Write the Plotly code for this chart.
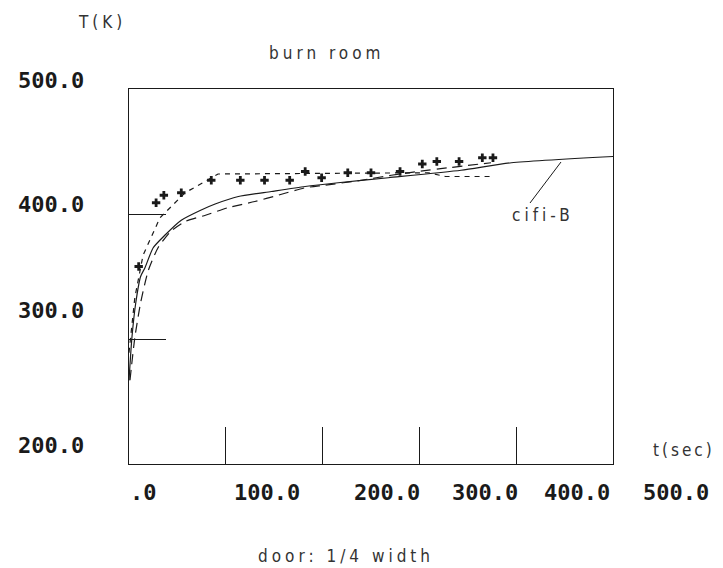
import plotly.graph_objects as go

# ---------------- data ----------------
solid_t = [0, 3, 7, 12, 16.5, 25, 37, 54, 74, 89, 113, 147, 182, 216, 268, 343, 395, 500]
solid_T = [267, 301, 329, 350, 357, 373, 383, 395, 403, 408, 414, 418, 422, 425, 429, 435, 441, 446]

dash_t = [1, 6, 12, 20, 30, 43, 58, 79, 102, 130, 154, 182, 202, 240, 271, 299, 330, 374]
dash_T = [267, 301, 329, 355, 373, 386, 394, 399, 405, 410, 415, 421, 423, 427, 431, 434, 437, 441]

dot_t = [0, 6, 14.5, 25, 32, 58, 79, 92, 309, 327, 373]
dot_T = [289, 333, 367, 385, 397, 417, 426, 432, 433, 430, 430]

meas_t = [10, 28, 36, 54, 85, 115, 140, 166, 182, 199, 226, 250, 280, 303, 318, 341, 365, 376]
meas_T = [358, 409, 415, 417, 427, 427, 427, 427, 434, 429, 433, 433, 434, 440, 442, 442, 445, 445]

x_tick_vals = [100, 200, 300, 400]
y_tick_vals = [300, 400]
x_tick_labels = [".0", "100.0", "200.0", "300.0", "400.0", "500.0"]
y_tick_labels = ["500.0", "400.0", "300.0", "200.0"]

# ---------------- layout geometry (pixels) ----------------
W, H = 723, 568
L, R, T, B = 121, 605, 81, 456

x_lab_px = [135, 259, 379, 477, 569, 668]
x_lab_py = 484
y_lab_px = 43
y_lab_py = [72, 196, 302, 437]


def px2paper(px, py):
    return (px - L) / (R - L), (B - py) / (B - T)


INK = "#1a1a1a"
TICKFONT = dict(family="DejaVu Sans Mono", size=22, color=INK)
THIN = dict(family="DejaVu Sans Condensed, Liberation Sans Narrow, DejaVu Sans", size=17, color="#333333")


def spaced(s, sp=4):
    return '<span style="letter-spacing:%dpx">%s</span>' % (sp, s)


fig = go.Figure()
fig.add_trace(go.Scatter(x=solid_t, y=solid_T, mode="lines", line=dict(color=INK, width=1.2, shape="spline", smoothing=0.6), name="cifi-B"))
fig.add_trace(go.Scatter(x=dash_t, y=dash_T, mode="lines", line=dict(color=INK, width=1.2, dash="10px,6px", shape="spline", smoothing=0.6)))
fig.add_trace(go.Scatter(x=dot_t, y=dot_T, mode="lines", line=dict(color=INK, width=1.2, dash="5px,5px")))
fig.add_trace(go.Scatter(x=meas_t, y=meas_T, mode="markers", marker=dict(symbol="cross", size=7, color=INK)))

annotations = []
for lab, px in zip(x_tick_labels, x_lab_px):
    ax, ay = px2paper(px, x_lab_py)
    annotations.append(dict(x=ax, y=ay, xref="paper", yref="paper", text="<b>%s</b>" % lab, showarrow=False,
                            font=TICKFONT, xanchor="center", yanchor="middle"))
for lab, py in zip(y_tick_labels, y_lab_py):
    ax, ay = px2paper(y_lab_px, py)
    annotations.append(dict(x=ax, y=ay, xref="paper", yref="paper", text="<b>%s</b>" % lab, showarrow=False,
                            font=TICKFONT, xanchor="center", yanchor="middle"))

texts = [("T(K)", 94, 14, 4), ("burn room", 318, 45, 4), ("t(sec)", 676, 442, 3),
         ("cifi-B", 535, 207, 4), ("door: 1/4 width", 338, 548, 4)]
for s, px, py, sp in texts:
    ax, ay = px2paper(px, py)
    annotations.append(dict(x=ax, y=ay, xref="paper", yref="paper", text=spaced(s, sp), showarrow=False,
                            font=THIN, xanchor="center", yanchor="middle"))

# leader line for the cifi-B label
lx0, ly0 = px2paper(522, 195)
lx1, ly1 = px2paper(553, 154)

fig.update_layout(
    width=W, height=H,
    margin=dict(l=L, r=W - R, t=T, b=H - B),
    paper_bgcolor="white", plot_bgcolor="white",
    showlegend=False,
    annotations=annotations,
    shapes=[dict(type="line", xref="paper", yref="paper", x0=lx0, y0=ly0, x1=lx1, y1=ly1,
                 line=dict(color=INK, width=1))],
    xaxis=dict(range=[0, 500], showgrid=False, zeroline=False, showline=True, mirror=True,
               linecolor=INK, linewidth=1, ticks="inside", ticklen=37, tickcolor=INK, tickwidth=1,
               tickvals=x_tick_vals, showticklabels=False),
    yaxis=dict(range=[200, 500], showgrid=False, zeroline=False, showline=True, mirror=True,
               linecolor=INK, linewidth=1, ticks="inside", ticklen=37, tickcolor=INK, tickwidth=1,
               tickvals=y_tick_vals, showticklabels=False),
)

fig.write_html("out.html")
